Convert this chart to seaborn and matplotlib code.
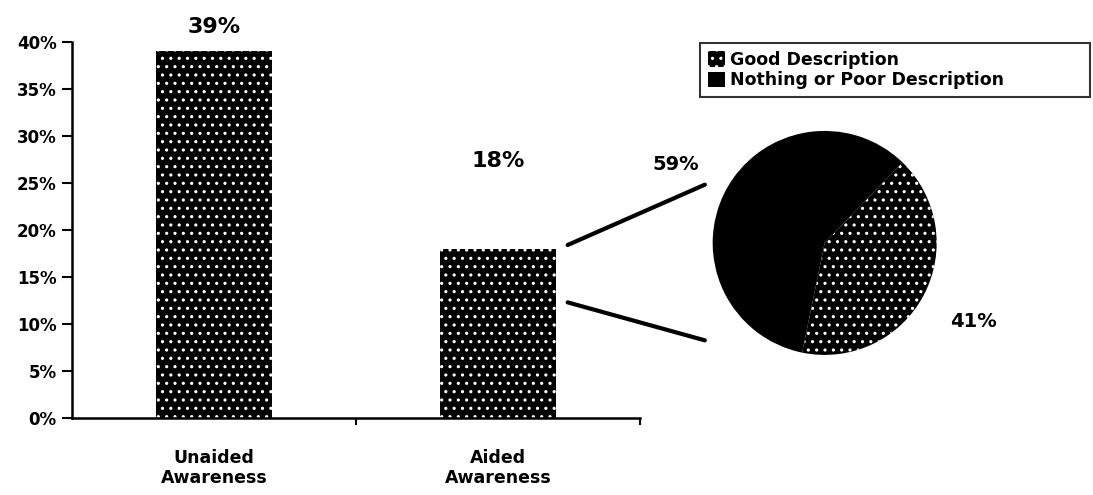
import matplotlib
matplotlib.use("Agg")
import matplotlib.pyplot as plt
from matplotlib.patches import ConnectionPatch
from matplotlib.ticker import PercentFormatter, FixedLocator
import seaborn as sns

# Awareness levels (percent of respondents)
categories = ["Unaided\nAwareness", "Aided\nAwareness"]
awareness = [39, 18]
label_offsets_px = [24, 88]

# Breakdown of the aided-awareness group
pie_labels = ["Good Description", "Nothing or Poor Description"]
pie_values = [41, 59]

sns.set_style("ticks")
plt.rcParams["font.family"] = ["DejaVu Sans"]
plt.rcParams["font.weight"] = "bold"
plt.rcParams["hatch.linewidth"] = 1.1
for key in ("text.color", "axes.labelcolor", "xtick.color", "ytick.color",
            "axes.edgecolor"):
    plt.rcParams[key] = "black"

fig = plt.figure(figsize=(10.93, 4.95), dpi=100)
ax = fig.add_axes([0.0659, 0.1556, 0.5197, 0.7596])

sns.barplot(x=categories, y=awareness, ax=ax, color="black", width=0.41,
            saturation=1)
for p in ax.patches:
    p.set_facecolor("black")
    p.set_edgecolor("white")
    p.set_hatch("..")
    p.set_linewidth(0)

ax.set_ylim(0, 40)
ax.set_xlim(-0.5, 1.5)
ax.set_yticks(range(0, 41, 5))
ax.yaxis.set_major_formatter(PercentFormatter(decimals=0))
ax.tick_params(axis="y", labelsize=12, length=7, width=1.5, direction="out",
               pad=4, colors="black")
ax.tick_params(axis="x", labelsize=12.5, length=0, pad=22, colors="black")
ax.xaxis.set_minor_locator(FixedLocator([0.5, 1.5]))
ax.tick_params(axis="x", which="minor", length=5, width=1.5, direction="out")
for lbl in ax.get_xticklabels() + ax.get_yticklabels():
    lbl.set_fontweight("bold")
    lbl.set_color("black")
sns.despine(ax=ax)
for s in ("left", "bottom"):
    ax.spines[s].set_linewidth(1.8)
    ax.spines[s].set_color("black")
ax.set_ylabel("")
ax.set_xlabel("")

for i, (v, off) in enumerate(zip(awareness, label_offsets_px)):
    ax.annotate(f"{v}%", xy=(i, v), xytext=(0, off), textcoords="offset pixels",
                ha="center", va="center", fontsize=16, fontweight="bold",
                color="black")

# Pie for the aided-awareness breakdown
pax = fig.add_axes([0.652, 0.283, 0.205, 0.4525])
wedges, _, autotexts = pax.pie(
    pie_values, startangle=-101.6, counterclock=True, colors=["black", "black"],
    autopct=lambda pct: f"{pct:.0f}%", pctdistance=1.5,
    wedgeprops=dict(linewidth=0), textprops=dict(fontsize=14, fontweight="bold"))
wedges[0].set_edgecolor("white")
wedges[0].set_hatch("..")
for t in autotexts:
    t.set_color("black")
pax.set_aspect("equal")
pax.set_xlim(-1, 1)
pax.set_ylim(-1, 1)

# Connector lines from the aided bar to the pie
bar_right = 1 + 0.41 / 2 + 0.04
for ya, pb in [(awareness[1] + 0.4, (-1.07, 0.52)), (12.3, (-1.07, -0.87))]:
    con = ConnectionPatch(xyA=(bar_right, ya), coordsA=ax.transData,
                          xyB=pb, coordsB=pax.transData,
                          color="black", linewidth=3)
    fig.add_artist(con)

leg = fig.legend(wedges, pie_labels, loc="upper left",
                 bbox_to_anchor=(700 / 1093, 1 - 43 / 495, 390 / 1093, 0),
                 mode="expand", frameon=True, fancybox=False, edgecolor="black",
                 fontsize=12.5, handlelength=1.0, handleheight=1.0,
                 handletextpad=0.3, labelspacing=0.15, borderpad=0.45,
                 borderaxespad=0)
leg.get_frame().set_linewidth(1.5)
for t in leg.get_texts():
    t.set_fontweight("bold")
    t.set_color("black")

fig.savefig("out.png", dpi=100)
